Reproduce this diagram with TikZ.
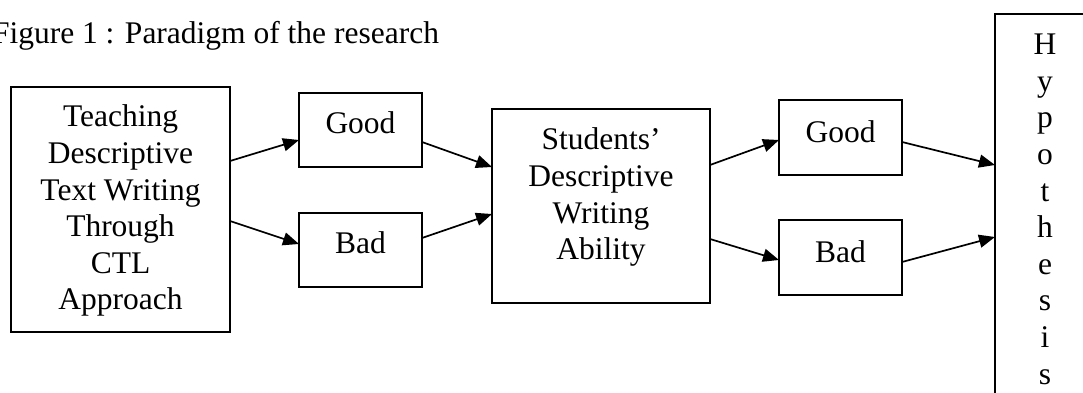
\documentclass[tikz,border=0pt]{standalone}
\usepackage{fontspec}
\setmainfont{Liberation Serif}
\usetikzlibrary{arrows.meta}
\begin{document}
\begin{tikzpicture}[x=1pt,y=-1pt,
  boxnode/.style={draw,line width=1.8pt,inner sep=0pt,outer sep=0pt},
  txt/.style={inner sep=0pt,outer sep=0pt,font=\fontsize{31.5}{36.6}\selectfont,align=center},
  conn/.style={line width=1.7pt,-{Triangle[length=16pt,width=13pt]}}]
\useasboundingbox (0,0) rectangle (1083,393);
\begin{scope}
\clip (0,0) rectangle (1083,393);
% boxes
\node[boxnode,minimum width=219pt,minimum height=245pt] (b1) at (120.5,209.5) {};
\node[boxnode,minimum width=123pt,minimum height=74pt] (g1) at (360.5,130) {};
\node[boxnode,minimum width=123pt,minimum height=74pt] (d1) at (360.5,250) {};
\node[boxnode,minimum width=218pt,minimum height=194pt] (m) at (601,206) {};
\node[boxnode,minimum width=123pt,minimum height=75pt] (g2) at (840.5,137.5) {};
\node[boxnode,minimum width=123pt,minimum height=75pt] (d2) at (840.5,257.5) {};
\node[boxnode,minimum width=100pt,minimum height=416pt] (hy) at (1045,222) {};
% texts
\node[txt,anchor=base west] (title) at (-8,43.5) {Figure 1 : Paradigm of the research};
\node[txt,anchor=north] (t1) at (120.5,105) {Teaching\\Descriptive\\Text Writing\\Through\\CTL\\Approach};
\node[txt,anchor=base] (tg1) at (360.5,133) {Good};
\node[txt,anchor=base] (td1) at (360.5,253) {Bad};
\node[txt,anchor=north] (tm) at (601,128) {Students’\\Descriptive\\Writing\\Ability};
\node[txt,anchor=base] (tg2) at (840.5,142) {Good};
\node[txt,anchor=base] (td2) at (840.5,262) {Bad};
\node[txt,anchor=north] (th) at (1045,34.1) {H\\y\\p\\o\\t\\h\\e\\s\\i\\s};
% connectors
\draw[conn] (b1.east |- 0,161) -- (g1.west |- 0,140);
\draw[conn] (b1.east |- 0,221) -- (d1.west |- 0,244);
\draw[conn] (g1.east |- 0,142) -- (m.west |- 0,167);
\draw[conn] (d1.east |- 0,238) -- (m.west |- 0,214);
\draw[conn] (m.east |- 0,165) -- (g2.west |- 0,140);
\draw[conn] (m.east |- 0,239) -- (d2.west |- 0,260);
\draw[conn] (g2.east |- 0,142) -- (hy.west |- 0,165);
\draw[conn] (d2.east |- 0,262) -- (hy.west |- 0,237);
\end{scope}
\end{tikzpicture}
\end{document}
